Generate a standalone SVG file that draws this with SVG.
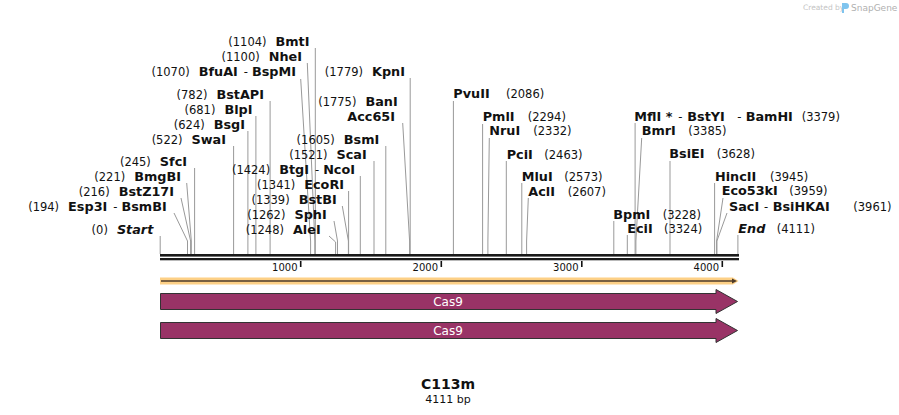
<svg xmlns="http://www.w3.org/2000/svg" width="899" height="415" viewBox="0 0 899 415">
<style>
text{font-family:"DejaVu Sans","Liberation Sans",sans-serif;fill:#111}
.n{font-size:11.5px;font-weight:normal}
.b{font-size:12.8px;font-weight:bold}
.h{font-size:11.5px;font-weight:normal}
.bi{font-size:12.8px;font-weight:bold;font-style:italic}
.c{fill:none;stroke:#999;stroke-width:1}
.tick{stroke:#111;stroke-width:1.6}
.tl{font-size:10px;text-anchor:end}
.cas{fill:#993366;stroke:#333;stroke-width:1}
.ct{fill:#fff;font-size:12px;text-anchor:middle}
</style>
<rect width="899" height="415" fill="#fff"/>
<g id="logo">
<text x="803" y="10" style="font-size:7.5px;fill:#c4c4c4">Created by</text>
<path d="M842,3 h4 a3,3 0 0 1 0,6 h-2 v4 h-2 z" fill="#7fc4ee"/>
<text x="851" y="10.5" style="font-size:9px;fill:#b0b0b0">SnapGene</text>
</g>
<g id="connectors">
<path class="c" d="M315.3,48V254"/>
<path class="c" d="M307.3,63L314.8,241V254"/>
<path class="c" d="M300.7,79L310.6,241V254"/>
<path class="c" d="M270.1,101V254"/>
<path class="c" d="M255.9,116V254"/>
<path class="c" d="M247.9,131V254"/>
<path class="c" d="M233.6,146V254"/>
<path class="c" d="M194.6,168V254"/>
<path class="c" d="M186.7,183L191.3,241V254"/>
<path class="c" d="M181,198L190.6,241V254"/>
<path class="c" d="M174,213L187.5,241V254"/>
<path class="c" d="M160.2,236V254"/>
<path class="c" d="M385.8,146V254"/>
<path class="c" d="M374,161V254"/>
<path class="c" d="M360.3,176V254"/>
<path class="c" d="M348.6,191V254"/>
<path class="c" d="M342.3,206L348.4,241V254"/>
<path class="c" d="M334,221L337.5,241V254"/>
<path class="c" d="M329,236L335.6,242V254"/>
<path class="c" d="M410.2,78V254"/>
<path class="c" d="M402.7,123L409.6,241V254"/>
<path class="c" d="M453.4,101V254"/>
<path class="c" d="M482.6,124V254"/>
<path class="c" d="M489.3,138L487.9,241V254"/>
<path class="c" d="M506.3,161V254"/>
<path class="c" d="M521.8,183V254"/>
<path class="c" d="M528.3,198L526.6,241V254"/>
<path class="c" d="M613.8,221V254"/>
<path class="c" d="M627.3,235V254"/>
<path class="c" d="M635.1,123V254"/>
<path class="c" d="M641.7,138L635.9,241V254"/>
<path class="c" d="M670,161V254"/>
<path class="c" d="M714.6,183V254"/>
<path class="c" d="M723,198L716.6,241V254"/>
<path class="c" d="M727,213L716.9,241V254"/>
<path class="c" d="M737.9,235V254"/>
</g>
<g id="backbone">
<rect x="160" y="254" width="579" height="2.6" fill="#1a1a1a"/>
<rect x="160" y="258" width="579" height="2.3" fill="#1a1a1a"/>
<path class="tick" d="M300.7,261V267M441.3,261V267M581.8,261V267M722.3,261V267"/>
<text class="tl" x="297.5" y="271">1000</text>
<text class="tl" x="438" y="271">2000</text>
<text class="tl" x="578.5" y="271">3000</text>
<text class="tl" x="719" y="271">4000</text>
</g>
<g id="site-BmtI"><text x="309.5" y="46" text-anchor="end"><tspan class="n">(1104)</tspan><tspan class="b" dx="9">BmtI</tspan></text></g>
<g id="site-NheI"><text x="302" y="61" text-anchor="end"><tspan class="n">(1100)</tspan><tspan class="b" dx="9">NheI</tspan></text></g>
<g id="site-BfuAI"><text x="296" y="76" text-anchor="end"><tspan class="n">(1070)</tspan><tspan class="b" dx="9">BfuAI</tspan><tspan class="h" dx="6">-</tspan><tspan class="b" dx="4">BspMI</tspan></text></g>
<g id="site-BstAPI"><text x="264" y="99" text-anchor="end"><tspan class="n">(782)</tspan><tspan class="b" dx="9">BstAPI</tspan></text></g>
<g id="site-BlpI"><text x="252.5" y="114" text-anchor="end"><tspan class="n">(681)</tspan><tspan class="b" dx="9">BlpI</tspan></text></g>
<g id="site-BsgI"><text x="245" y="129" text-anchor="end"><tspan class="n">(624)</tspan><tspan class="b" dx="9">BsgI</tspan></text></g>
<g id="site-SwaI"><text x="226" y="144" text-anchor="end"><tspan class="n">(522)</tspan><tspan class="b" dx="9">SwaI</tspan></text></g>
<g id="site-SfcI"><text x="187" y="166" text-anchor="end"><tspan class="n">(245)</tspan><tspan class="b" dx="9">SfcI</tspan></text></g>
<g id="site-BmgBI"><text x="181" y="181" text-anchor="end"><tspan class="n">(221)</tspan><tspan class="b" dx="9">BmgBI</tspan></text></g>
<g id="site-BstZ17I"><text x="174" y="196" text-anchor="end"><tspan class="n">(216)</tspan><tspan class="b" dx="9">BstZ17I</tspan></text></g>
<g id="site-Esp3I"><text x="166.7" y="211" text-anchor="end"><tspan class="n">(194)</tspan><tspan class="b" dx="9">Esp3I</tspan><tspan class="h" dx="6">-</tspan><tspan class="b" dx="4">BsmBI</tspan></text></g>
<g id="site-Start"><text x="153.3" y="234" text-anchor="end"><tspan class="n">(0)</tspan><tspan class="bi" dx="9">Start</tspan></text></g>
<g id="site-BsmI"><text x="379.3" y="144" text-anchor="end"><tspan class="n">(1605)</tspan><tspan class="b" dx="9">BsmI</tspan></text></g>
<g id="site-ScaI"><text x="366.7" y="159" text-anchor="end"><tspan class="n">(1521)</tspan><tspan class="b" dx="9">ScaI</tspan></text></g>
<g id="site-BtgI"><text x="355" y="174" text-anchor="end"><tspan class="n">(1424)</tspan><tspan class="b" dx="9">BtgI</tspan><tspan class="h" dx="6">-</tspan><tspan class="b" dx="4">NcoI</tspan></text></g>
<g id="site-EcoRI"><text x="344" y="189" text-anchor="end"><tspan class="n">(1341)</tspan><tspan class="b" dx="9">EcoRI</tspan></text></g>
<g id="site-BstBI"><text x="336.7" y="204" text-anchor="end"><tspan class="n">(1339)</tspan><tspan class="b" dx="9">BstBI</tspan></text></g>
<g id="site-SphI"><text x="326.7" y="219" text-anchor="end"><tspan class="n">(1262)</tspan><tspan class="b" dx="9">SphI</tspan></text></g>
<g id="site-AleI"><text x="320.7" y="234" text-anchor="end"><tspan class="n">(1248)</tspan><tspan class="b" dx="9">AleI</tspan></text></g>
<g id="site-KpnI"><text x="405" y="76" text-anchor="end"><tspan class="n">(1779)</tspan><tspan class="b" dx="9">KpnI</tspan></text></g>
<g id="site-BanI"><text x="397.7" y="106" text-anchor="end"><tspan class="n">(1775)</tspan><tspan class="b" dx="9">BanI</tspan></text></g>
<g id="site-Acc65I"><text x="395" y="121" text-anchor="end" class="b">Acc65I</text></g>
<g id="site-PvuII"><text y="98"><tspan class="b" x="453.3">PvuII</tspan><tspan class="n" x="506">(2086)</tspan></text></g>
<g id="site-PmlI"><text y="121"><tspan class="b" x="482.7">PmlI</tspan><tspan class="n" x="527.7">(2294)</tspan></text></g>
<g id="site-NruI"><text y="135"><tspan class="b" x="489.3">NruI</tspan><tspan class="n" x="533.3">(2332)</tspan></text></g>
<g id="site-PciI"><text y="159"><tspan class="b" x="506.7">PciI</tspan><tspan class="n" x="544.3">(2463)</tspan></text></g>
<g id="site-MluI"><text y="181"><tspan class="b" x="521.7">MluI</tspan><tspan class="n" x="564.3">(2573)</tspan></text></g>
<g id="site-AclI"><text y="196"><tspan class="b" x="528.3">AclI</tspan><tspan class="n" x="567.7">(2607)</tspan></text></g>
<g id="site-BpmI"><text y="219"><tspan class="b" x="613.3">BpmI</tspan><tspan class="n" x="662.7">(3228)</tspan></text></g>
<g id="site-EciI"><text y="233"><tspan class="b" x="627.3">EciI</tspan><tspan class="n" x="664">(3324)</tspan></text></g>
<g id="site-MflI"><text y="121"><tspan class="b" x="634.3">MflI *</tspan><tspan class="h" x="678.3">-</tspan><tspan class="b" x="687.3">BstYI</tspan><tspan class="h" x="737.3">-</tspan><tspan class="b" x="745.7">BamHI</tspan><tspan class="n" x="801.7">(3379)</tspan></text></g>
<g id="site-BmrI"><text y="135"><tspan class="b" x="641.7">BmrI</tspan><tspan class="n" x="688.3">(3385)</tspan></text></g>
<g id="site-BsiEI"><text y="158"><tspan class="b" x="669.3">BsiEI</tspan><tspan class="n" x="716.7">(3628)</tspan></text></g>
<g id="site-HincII"><text y="181"><tspan class="b" x="715">HincII</tspan><tspan class="n" x="770">(3945)</tspan></text></g>
<g id="site-Eco53kI"><text y="195"><tspan class="b" x="721.7">Eco53kI</tspan><tspan class="n" x="789.3">(3959)</tspan></text></g>
<g id="site-SacI"><text y="211"><tspan class="b" x="729">SacI</tspan><tspan class="h" x="764">-</tspan><tspan class="b" x="772.7">BsiHKAI</tspan><tspan class="n" x="853.3">(3961)</tspan></text></g>
<g id="site-End"><text y="233"><tspan class="bi" x="738.3">End</tspan><tspan class="n" x="776.7">(4111)</tspan></text></g>
<g id="feature-orf">
<path d="M160,277.5H733L738.5,281L733,284.5H160Z" fill="#fdd086"/>
<path d="M161,281H733" stroke="#4d3b2a" stroke-width="1.6"/>
<path d="M732,278.5L737,281L732,283.5Z" fill="#4d3b2a"/>
</g>
<g id="feature-cas9-1">
<path class="cas" d="M160.5,293.5H716V289.5L737.5,301.5L716,313.5V309.5H160.5Z"/>
<text class="ct" x="448" y="305.5">Cas9</text>
</g>
<g id="feature-cas9-2">
<path class="cas" d="M160.5,322.5H716V318.5L737.5,330.5L716,342.5V338.5H160.5Z"/>
<text class="ct" x="448" y="334.5">Cas9</text>
</g>
<g id="title">
<text x="448" y="389" text-anchor="middle" style="font-size:14px;font-weight:bold">C113m</text>
<text x="448" y="403" text-anchor="middle" style="font-size:11px">4111 bp</text>
</g>
</svg>
